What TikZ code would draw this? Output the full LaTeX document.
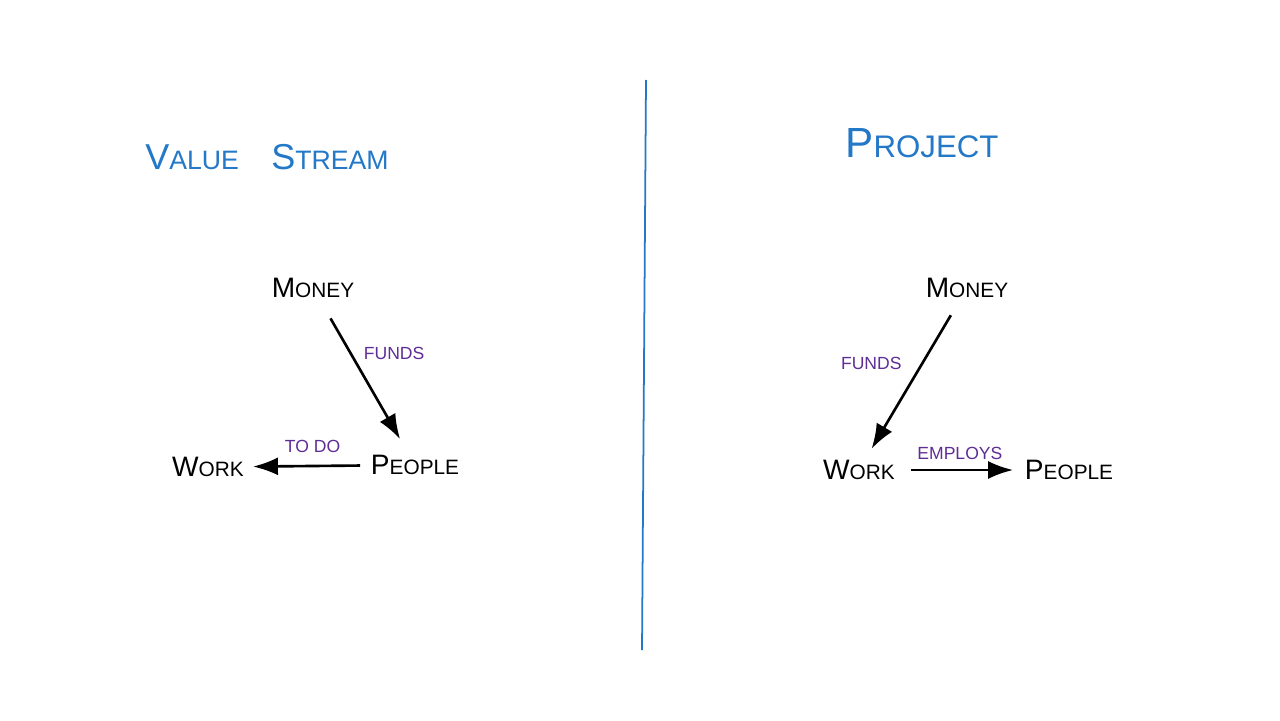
\documentclass[tikz,border=0pt]{standalone}
\usepackage{fontspec}
\setmainfont{Liberation Sans}
\usepackage{graphicx}
\usepackage{xcolor}
\usetikzlibrary{arrows.meta,positioning}

\definecolor{penblue}{RGB}{35,120,200}
\definecolor{penpurple}{RGB}{95,45,150}

% hand-lettered small caps: big first letter, rest scaled down
\newcommand{\hcaps}[2]{#1\scalebox{0.74}{#2}}

\begin{document}
\begin{tikzpicture}[
    x=0.02cm, y=-0.02cm,
    title/.style={text=penblue, font=\fontsize{24}{26}\selectfont, inner sep=0pt},
    term/.style={text=black, font=\fontsize{16}{18}\selectfont, inner sep=2pt},
    verb/.style={text=penpurple, font=\fontsize{10}{12}\selectfont, inner sep=1pt},
    arrow/.style={-{Latex[length=5mm,width=3.6mm]}, line width=1.5pt}
]
\useasboundingbox[fill=white] (0,0) rectangle (1280,720);

% divider
\draw[penblue, line width=1pt] (646,80) -- (642,650);

% left side
\node[title, font=\fontsize{20.5}{24}\selectfont] (vs) at (267,157) {\hcaps{V}{ALUE}\hspace{0.9em}\hcaps{S}{TREAM}};
\node[term] (money1) at (313,288) {\hcaps{M}{ONEY}};
\node[term] (people1) at (415,465) {\hcaps{P}{EOPLE}};
\node[term] (work1) at (208,467) {\hcaps{W}{ORK}};

\draw[arrow, shorten <=11pt, shorten >=8pt] (money1) -- (people1)
    node[verb, pos=0.3, right=8pt, yshift=-4pt] {FUNDS};
\draw[arrow, shorten <=4pt, shorten >=3pt] (people1) -- (work1)
    node[verb, midway, above=6pt, xshift=3pt] {TO DO};

% right side
\node[title] (proj) at (922,143) {\hcaps{P}{ROJECT}};
\node[term] (money2) at (967,288) {\hcaps{M}{ONEY}};
\node[term] (work2) at (859,470) {\hcaps{W}{ORK}};
\node[term] (people2) at (1069,470) {\hcaps{P}{EOPLE}};

\draw[arrow, shorten <=9pt, shorten >=5pt] (money2) -- (work2)
    node[verb, pos=0.4, left=10pt] {FUNDS};
\draw[arrow, shorten <=7pt, shorten >=4.5pt] (work2) -- (people2)
    node[verb, midway, above=4pt] {EMPLOYS};

\end{tikzpicture}
\end{document}
